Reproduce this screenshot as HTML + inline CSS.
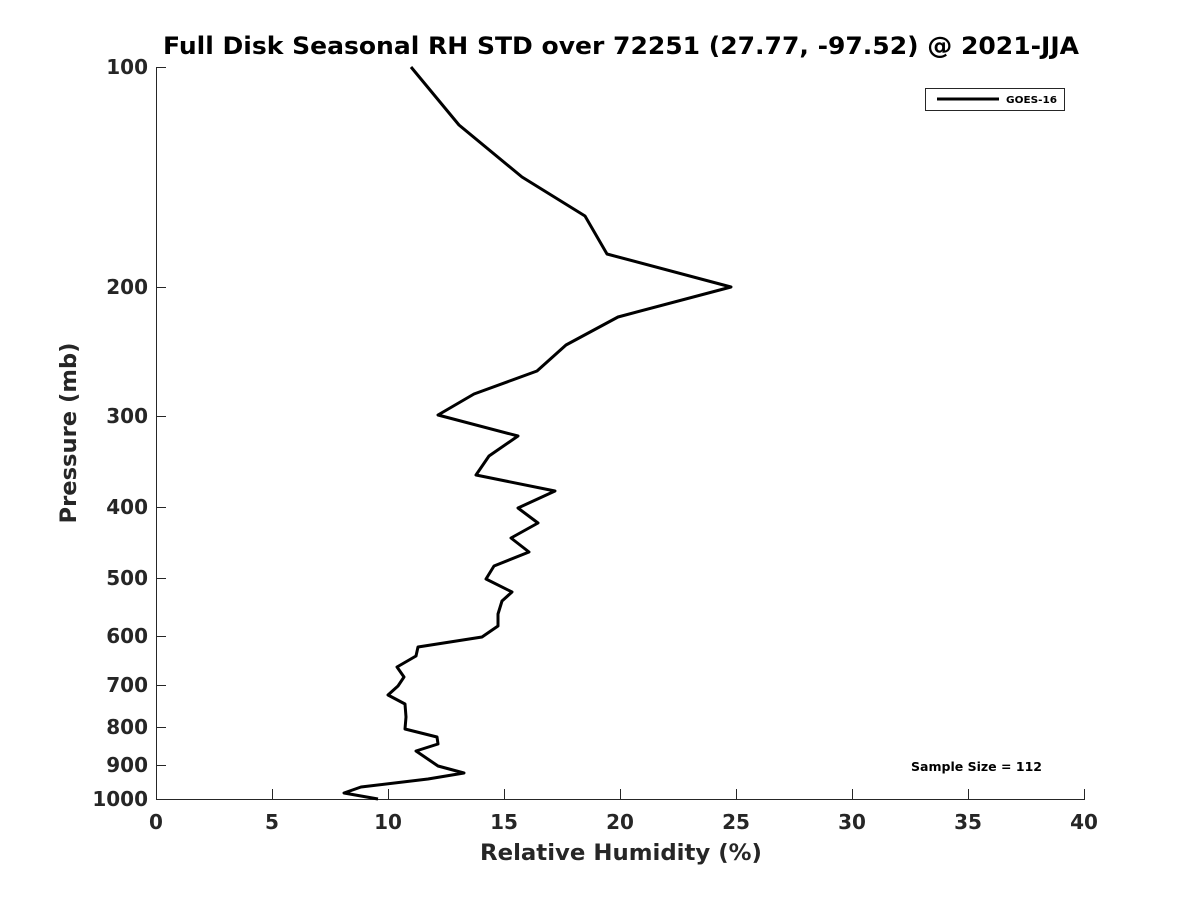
<!DOCTYPE html>
<html><head><meta charset="utf-8"><style>body{margin:0;background:#fff}</style></head><body>
<svg width="1200" height="900" xmlns="http://www.w3.org/2000/svg" font-family="DejaVu Sans, Liberation Sans, sans-serif" font-weight="bold" fill="#262626">
<rect width="1200" height="900" fill="#fff"/>
<text x="621" y="54" text-anchor="middle" font-size="24" textLength="916" lengthAdjust="spacingAndGlyphs" fill="#000">Full Disk Seasonal RH STD over 72251 (27.77, -97.52) @ 2021-JJA</text>
<g stroke="#262626" stroke-width="1" fill="none">
<line x1="156" y1="799.5" x2="1085" y2="799.5"/>
<line x1="156.5" y1="67" x2="156.5" y2="800"/>
<line x1="272.5" y1="799" x2="272.5" y2="789"/><line x1="388.5" y1="799" x2="388.5" y2="789"/>
<line x1="504.5" y1="799" x2="504.5" y2="789"/><line x1="620.5" y1="799" x2="620.5" y2="789"/>
<line x1="736.5" y1="799" x2="736.5" y2="789"/><line x1="852.5" y1="799" x2="852.5" y2="789"/>
<line x1="968.5" y1="799" x2="968.5" y2="789"/><line x1="1084.5" y1="799" x2="1084.5" y2="789"/>
<line x1="156" y1="67.5" x2="166" y2="67.5"/><line x1="156" y1="287.5" x2="166" y2="287.5"/>
<line x1="156" y1="416.5" x2="166" y2="416.5"/><line x1="156" y1="507.5" x2="166" y2="507.5"/>
<line x1="156" y1="578.5" x2="166" y2="578.5"/><line x1="156" y1="636.5" x2="166" y2="636.5"/>
<line x1="156" y1="685.5" x2="166" y2="685.5"/><line x1="156" y1="727.5" x2="166" y2="727.5"/>
<line x1="156" y1="765.5" x2="166" y2="765.5"/>
</g>
<g font-size="20" text-anchor="middle">
<text x="156" y="829">0</text><text x="272" y="829">5</text><text x="388" y="829">10</text><text x="504" y="829">15</text><text x="620" y="829">20</text><text x="736" y="829">25</text><text x="852" y="829">30</text><text x="968" y="829">35</text><text x="1084" y="829">40</text>
</g>
<g font-size="20" text-anchor="end">
<text x="148" y="74">100</text><text x="148" y="294">200</text><text x="148" y="423">300</text><text x="148" y="514">400</text><text x="148" y="585">500</text><text x="148" y="643">600</text><text x="148" y="692">700</text><text x="148" y="734">800</text><text x="148" y="772">900</text><text x="148" y="806">1000</text>
</g>
<text x="621" y="860" text-anchor="middle" font-size="22" textLength="282" lengthAdjust="spacingAndGlyphs">Relative Humidity (%)</text>
<text transform="translate(76,433) rotate(-90)" text-anchor="middle" font-size="22" textLength="181" lengthAdjust="spacingAndGlyphs">Pressure (mb)</text>
<polyline fill="none" stroke="#000" stroke-width="3" stroke-linejoin="round" points="411,67 459,125 522,177 585,216 607,254 731,287 618,317 566,345 537,371 474,394 438,415 518,436 489,456 476,475 555,491 518,508 538,523 511,538 529,552 494,566 486,579 512,592 502,601 498,614 498,626 482,637 418,647 416,656 397,667 404,677 398,686 388,695 405,704 406,717 405,729 437,737 438,744 416,751 438,766 464,773 428,779 361,787 344,793 378,799"/>
<rect x="925.5" y="88.5" width="139" height="22" fill="#fff" stroke="#262626"/>
<line x1="937" y1="99" x2="999" y2="99" stroke="#000" stroke-width="3"/>
<text x="1006" y="103" font-size="10" textLength="51" lengthAdjust="spacingAndGlyphs" fill="#000">GOES-16</text>
<text x="911" y="771" font-size="12" textLength="131" lengthAdjust="spacingAndGlyphs" fill="#000">Sample Size = 112</text>
</svg>
</body></html>
